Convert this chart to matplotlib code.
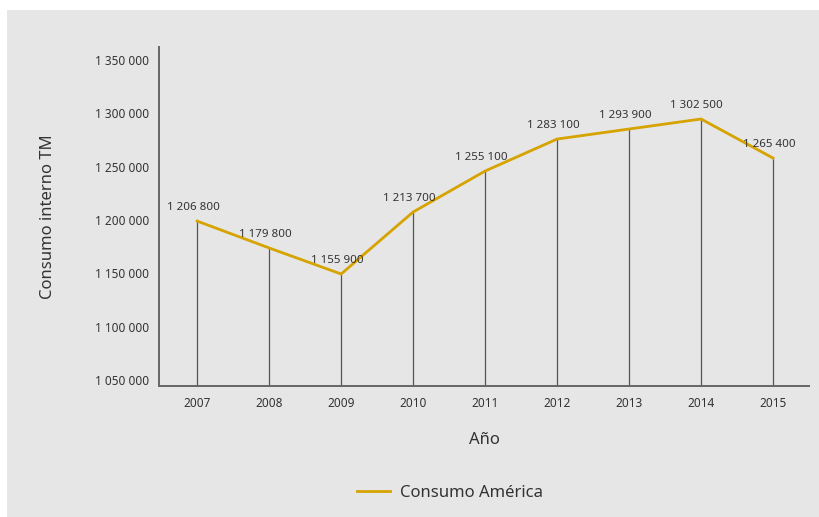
import matplotlib
matplotlib.use("Agg")
import matplotlib.pyplot as plt
from matplotlib.patches import Rectangle

plt.rcParams['font.family'] = ['Noto Sans', 'DejaVu Sans']

# data
years = [2007, 2008, 2009, 2010, 2011, 2012, 2013, 2014, 2015]
# plotted positions
consumo = [1199000, 1173800, 1149400, 1207500, 1245900, 1275900, 1285300, 1294700, 1258100]
# value labels as printed on the chart
etiquetas = ["1 206 800", "1 179 800", "1 155 900", "1 213 700", "1 255 100",
             "1 283 100", "1 293 900", "1 302 500", "1 265 400"]
yticks = [1050000, 1100000, 1150000, 1200000, 1250000, 1300000, 1350000]

gold = '#d6a300'
bg = '#e6e6e6'
txt = '#333333'

fig = plt.figure(figsize=(8.2, 5.17), dpi=100)
fig.patch.set_facecolor('white')
# grey panel behind everything
fig.patches.append(Rectangle((7/820, 0), 1 - 7/820, 1 - 10/517,
                             transform=fig.transFigure, facecolor=bg,
                             edgecolor='none', zorder=-10))

ax = fig.add_axes([159/820, 1 - 386/517, 650/820, 339/517])
ax.set_facecolor('none')

# drop lines from each point to the bottom
ax.vlines(years, 1044400, consumo, color='#555555', lw=0.9, zorder=2)
ax.plot(years, consumo, color=gold, lw=2.0, label='Consumo América', zorder=3,
        solid_joinstyle='miter')

for x, y, s in zip(years, consumo, etiquetas):
    ax.annotate(s, (x, y), xytext=(-3, 10), textcoords='offset points',
                ha='center', va='center', fontsize=8.3, color=txt)

ax.set_xlim(2006.47, 2015.5)
ax.set_ylim(1044400, 1362200)
ax.set_xticks(years)
ax.set_yticks(yticks)
ax.set_yticklabels([f"{v:,}".replace(",", " ") for v in yticks])
ax.tick_params(axis='both', length=0, labelsize=8.5, colors=txt)
ax.tick_params(axis='x', pad=8)
ax.tick_params(axis='y', pad=7)

for side in ['top', 'right']:
    ax.spines[side].set_visible(False)
for side in ['left', 'bottom']:
    ax.spines[side].set_color('#666666')
    ax.spines[side].set_linewidth(1.4)

ax.set_xlabel('Año', fontsize=12, color=txt, labelpad=16)
ax.set_ylabel('Consumo interno TM', fontsize=12, color=txt, labelpad=28)

fig.legend(loc='center', bbox_to_anchor=(450/820, 1 - 493/517), frameon=False,
           fontsize=12, handlelength=2.0, handletextpad=0.6, labelcolor=txt)

fig.savefig('out.png', dpi=100, facecolor=fig.get_facecolor())
